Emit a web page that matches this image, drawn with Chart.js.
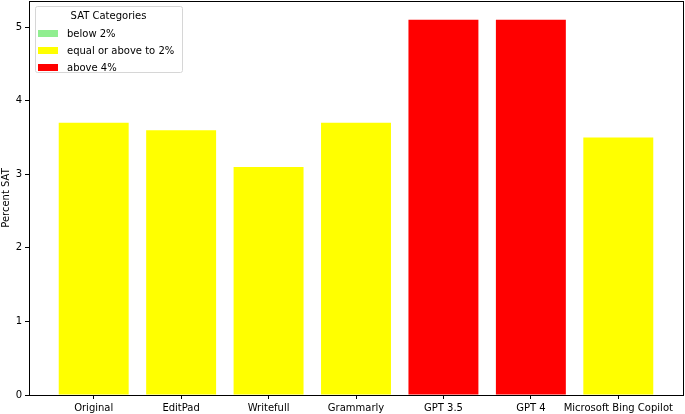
<!DOCTYPE html>
<html>
<head>
<meta charset="utf-8">
<script src="https://cdn.jsdelivr.net/npm/chart.js@4/dist/chart.umd.min.js"></script>
<style>
  html, body { margin: 0; padding: 0; background: #fff; }
  #wrap { width: 685px; height: 414px; }
</style>
</head>
<body>
<div id="wrap"><canvas id="myChart" width="685" height="414"></canvas></div>
<script>
// data
var tools = ['Original', 'EditPad', 'Writefull', 'Grammarly', 'GPT 3.5', 'GPT 4', 'Microsoft Bing Copilot'];
var satPercent = [3.7, 3.6, 3.1, 3.7, 5.1, 5.1, 3.5];
var categoryNames = ['below 2%', 'equal or above to 2%', 'above 4%'];
var categoryColors = ['#90ee90', '#ffff00', '#ff0000'];
var yTicks = [0, 1, 2, 3, 4, 5];

function categoryOf(v) {
    if (v < 2) return 0;
    if (v > 4) return 2;
    return 1;
}

// one dataset per category, so the legend reads from them
var datasets = categoryNames.map(function (name, c) {
    var pts = [];
    tools.forEach(function (t, i) {
        if (categoryOf(satPercent[i]) === c) pts.push({ x: i, y: satPercent[i] });
    });
    return {
        label: name,
        data: pts,
        backgroundColor: categoryColors[c],
        borderWidth: 0,
        grouped: false,
        categoryPercentage: 1.0,
        barPercentage: 0.8
    };
});

var font = { family: 'DejaVu Sans', size: 10 };
var xPad = 0.34; // matplotlib style 5% margin
var yMax = Math.max.apply(null, satPercent) * 1.05;

function noPad(scale) {
    scale.paddingTop = 0;
    scale.paddingBottom = 0;
    scale.paddingLeft = 0;
    scale.paddingRight = 0;
}

// axes box + legend inside the plot, matplotlib style
var boxAndLegend = {
    id: 'boxAndLegend',
    afterDraw: function (chart) {
        var c = chart.ctx, a = chart.chartArea;
        c.save();
        c.strokeStyle = '#000';
        c.lineWidth = 1;
        c.strokeRect(Math.round(a.left) + 0.5, Math.round(a.top) + 0.5,
            Math.round(a.right - a.left), Math.round(a.bottom - a.top));

        var lx = a.left + 6, ly = a.top + 5, lw = 147, lh = 66;
        c.fillStyle = 'rgba(255,255,255,0.8)';
        c.strokeStyle = '#d6d6d6';
        c.beginPath();
        c.roundRect(lx + 0.5, ly + 0.5, lw, lh, 2);
        c.fill();
        c.stroke();

        c.font = '10px "DejaVu Sans"';
        c.fillStyle = '#000';
        c.textBaseline = 'middle';
        c.textAlign = 'center';
        c.fillText('SAT Categories', lx + lw / 2, ly + 10);
        c.textAlign = 'left';
        chart.data.datasets.forEach(function (ds, i) {
            var ry = ly + 27 + i * 17;
            c.fillStyle = ds.backgroundColor;
            c.fillRect(lx + 3, ry - 3, 20, 7);
            c.fillStyle = '#000';
            c.fillText(ds.label, lx + 32, ry + 1);
        });
        c.restore();
    }
};

var ctx = document.getElementById('myChart').getContext('2d');
var chart = new Chart(ctx, {
    type: 'bar',
    data: { datasets: datasets },
    options: {
        responsive: false,
        animation: false,
        layout: { padding: { top: 1, right: 2, left: 0, bottom: 0 } },
        plugins: {
            legend: { display: false },
            tooltip: { enabled: false }
        },
        scales: {
            x: {
                type: 'linear',
                offset: false,
                min: -0.5 - xPad + 0.1,
                max: tools.length - 0.5 + xPad - 0.1,
                afterBuildTicks: function (scale) {
                    scale.ticks = tools.map(function (t, i) { return { value: i }; });
                },
                afterFit: function (scale) { scale.height = 19; noPad(scale); },
                ticks: {
                    color: '#000',
                    font: font,
                    padding: 3,
                    maxRotation: 0,
                    autoSkip: false,
                    callback: function (v) { return tools[v]; }
                },
                grid: { drawOnChartArea: false, offset: false, tickLength: 4, color: '#000' },
                border: { display: false }
            },
            y: {
                min: 0,
                max: yMax,
                afterBuildTicks: function (scale) {
                    scale.ticks = yTicks.map(function (v) { return { value: v }; });
                },
                afterFit: function (scale) { scale.width = 29; noPad(scale); },
                title: { display: true, text: 'Percent SAT', color: '#000', font: font, padding: 0 },
                ticks: { color: '#000', font: font, padding: 3 },
                grid: { drawOnChartArea: false, tickLength: 4, color: '#000' },
                border: { display: false }
            }
        }
    },
    plugins: [boxAndLegend]
});
</script>
</body>
</html>
